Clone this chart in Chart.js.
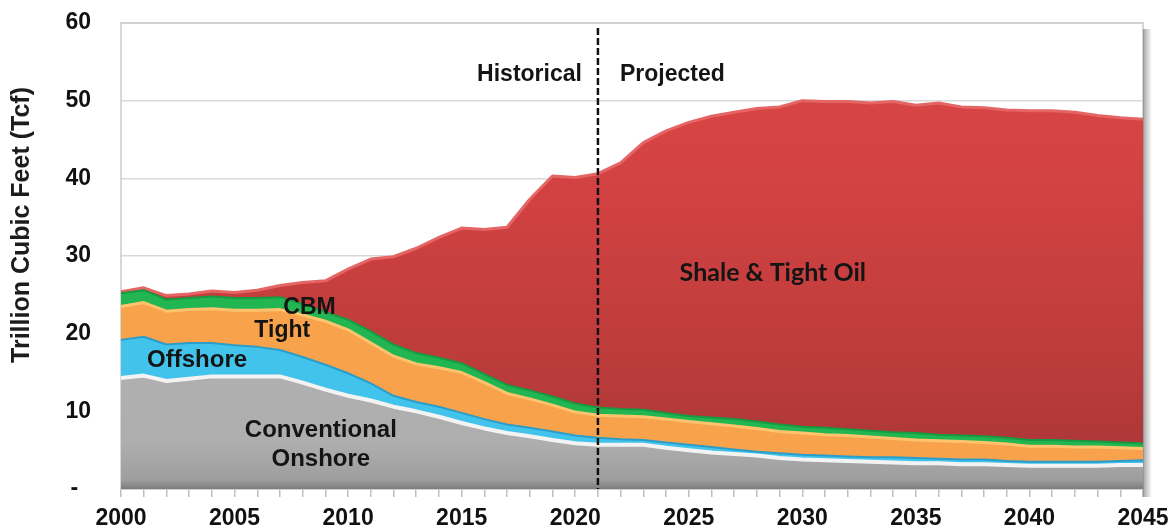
<!DOCTYPE html>
<html>
<head>
<meta charset="utf-8">
<script src="https://cdn.jsdelivr.net/npm/chart.js@4.4.1/dist/chart.umd.min.js"></script>
<style>
html,body{margin:0;padding:0;background:#fff;}
#wrap{width:1173px;height:531px;position:relative;}
</style>
</head>
<body>
<div id="wrap"><canvas id="c" width="1173" height="531"></canvas></div>
<script>
const years = [2000,2001,2002,2003,2004,2005,2006,2007,2008,2009,2010,2011,2012,2013,2014,2015,2016,2017,2018,2019,2020,2021,2022,2023,2024,2025,2026,2027,2028,2029,2030,2031,2032,2033,2034,2035,2036,2037,2038,2039,2040,2041,2042,2043,2044,2045];
const conventionalOnshore = [14.3,14.6,13.9,14.2,14.5,14.5,14.5,14.5,13.7,12.8,12.0,11.4,10.6,10.0,9.3,8.5,7.8,7.2,6.8,6.3,5.9,5.7,5.7,5.7,5.3,5.0,4.7,4.5,4.3,4.0,3.8,3.7,3.6,3.5,3.4,3.3,3.3,3.2,3.2,3.1,3.0,3.0,3.0,3.0,3.1,3.1];
const offshore = [4.9,5.0,4.7,4.6,4.3,4.0,3.8,3.4,3.3,3.2,2.9,2.2,1.4,1.2,1.3,1.3,1.2,1.1,1.1,1.1,1.0,0.9,0.7,0.6,0.7,0.7,0.7,0.6,0.5,0.6,0.6,0.6,0.6,0.6,0.7,0.7,0.6,0.6,0.6,0.5,0.5,0.5,0.5,0.5,0.5,0.6];
const tight = [4.3,4.4,4.3,4.3,4.4,4.5,4.7,5.2,5.4,5.6,5.6,5.2,5.1,4.9,5.0,5.2,4.7,4.0,3.7,3.4,3.0,2.9,3.0,3.0,3.0,3.0,3.0,3.0,3.0,2.8,2.8,2.7,2.7,2.6,2.4,2.3,2.3,2.3,2.2,2.2,2.0,2.0,1.9,1.9,1.7,1.5];
const cbm = [1.7,1.6,1.5,1.5,1.6,1.6,1.6,1.6,1.4,1.2,1.3,1.5,1.5,1.4,1.3,1.2,1.1,1.1,1.1,1.1,1.1,1.0,0.9,0.9,0.8,0.7,0.8,0.9,0.9,0.9,0.8,0.9,0.8,0.8,0.8,0.9,0.8,0.8,0.8,0.8,0.8,0.8,0.8,0.7,0.7,0.7];
const shaleTightOil = [0.2,0.3,0.5,0.5,0.7,0.7,1.0,1.5,2.8,4.0,6.5,9.3,11.3,13.5,15.5,17.4,18.6,20.3,24.6,28.4,29.1,30.1,31.7,34.4,36.3,37.8,38.8,39.5,40.3,40.9,42.0,42.0,42.2,42.2,42.6,42.2,42.7,42.3,42.3,42.2,42.4,42.4,42.3,42.0,41.8,41.7];
const yTicks = [0,10,20,30,40,50,60];
const yTickLabels = ['-','10','20','30','40','50','60'];
const seriesNames = ['Conventional Onshore','Offshore','Tight','CBM','Shale & Tight Oil'];
const dividerYear = 2021;
const eraLabels = ['Historical','Projected'];
const axisTitle = 'Trillion Cubic Feet (Tcf)';

const tickFont = {family:'"Liberation Sans", Arial, sans-serif', size:23, weight:'bold'};
const labelFamily = '"Liberation Sans", Arial, sans-serif';

function vGrad(ctx, stops, fallback){
  const ch = ctx.chart; const a = ch.chartArea;
  if(!a) return fallback;
  const g = ch.ctx.createLinearGradient(0, a.top, 0, a.bottom);
  stops.forEach(s=>g.addColorStop(s[0], s[1]));
  return g;
}

const overlay = {
  id:'overlay',
  beforeDatasetsDraw(chart){
    const {ctx, chartArea:a} = chart;
    ctx.save();
    ctx.strokeStyle='#CBCBCB'; ctx.lineWidth=1.5;
    ctx.strokeRect(a.left, a.top, a.right-a.left, a.bottom-a.top);
    ctx.restore();
  },
  afterDatasetsDraw(chart){
    const {ctx, chartArea:a, scales:{x,y}} = chart;
    ctx.save();
    const sg = ctx.createLinearGradient(a.right,0,a.right+9,0);
    sg.addColorStop(0,'rgba(90,90,90,0.55)');
    sg.addColorStop(1,'rgba(90,90,90,0)');
    ctx.fillStyle=sg;
    ctx.fillRect(a.right, a.top+6, 9, a.bottom-a.top+2);
    const bg = ctx.createLinearGradient(0,a.bottom-9,0,a.bottom);
    bg.addColorStop(0,'rgba(70,70,70,0)');
    bg.addColorStop(1,'rgba(70,70,70,0.35)');
    ctx.fillStyle=bg;
    ctx.fillRect(a.left, a.bottom-9, a.right-a.left, 9);
    const xi = years.indexOf(dividerYear);
    const dx = x.getPixelForValue(xi);
    ctx.strokeStyle='#111'; ctx.lineWidth=2.5; ctx.setLineDash([7,3]);
    ctx.beginPath(); ctx.moveTo(dx, a.top+5); ctx.lineTo(dx, a.bottom); ctx.stroke();
    ctx.setLineDash([]);
    ctx.fillStyle='#141414';
    ctx.textBaseline='middle';
    ctx.font='bold 23px '+labelFamily;
    ctx.textAlign='right';
    ctx.fillText(eraLabels[0], dx-16, y.getPixelForValue(53.3));
    ctx.textAlign='left';
    ctx.fillText(eraLabels[1], dx+22, y.getPixelForValue(53.3));
    ctx.textAlign='center';
    ctx.font='bold 23px '+labelFamily;
    ctx.fillText('CBM', x.getPixelForValue(8.3), y.getPixelForValue(23.4));
    ctx.fillText('Tight', x.getPixelForValue(7.1), y.getPixelForValue(20.4));
    ctx.font='bold 24px '+labelFamily;
    ctx.fillText('Offshore', x.getPixelForValue(3.35), y.getPixelForValue(16.6));
    ctx.fillText('Conventional', x.getPixelForValue(8.8), y.getPixelForValue(7.5));
    ctx.fillText('Onshore', x.getPixelForValue(8.8), y.getPixelForValue(3.8));
    ctx.font='bold 25px Lato, "Open Sans", sans-serif';
    ctx.fillText(seriesNames[4], x.getPixelForValue(28.7), y.getPixelForValue(27.8));
    ctx.translate(22, 225);
    ctx.rotate(-Math.PI/2);
    ctx.font='bold 25px '+labelFamily;
    ctx.fillStyle='#1c1c1c';
    ctx.textAlign='center';
    ctx.fillText(axisTitle, 0, 0);
    ctx.restore();
  }
};

const common = {pointRadius:0, pointHoverRadius:0, tension:0};
new Chart(document.getElementById('c'), {
  type:'line',
  data:{
    labels: years.map(String),
    datasets:[
      Object.assign({label:seriesNames[0], data:conventionalOnshore, fill:'origin',
        backgroundColor:(c)=>vGrad(c,[[0,'#B8B8B8'],[0.9,'#AEAEAE'],[1,'#9A9A9A']],'#B0B0B0'),
        borderColor:'#F3F3F3', borderWidth:4}, common),
      Object.assign({label:seriesNames[1], data:offshore, fill:'-1',
        backgroundColor:'#41C3EB', borderColor:'#2C9DC9', borderWidth:2}, common),
      Object.assign({label:seriesNames[2], data:tight, fill:'-1',
        backgroundColor:'#F8A24C', borderColor:'#FFC36E', borderWidth:3}, common),
      Object.assign({label:seriesNames[3], data:cbm, fill:'-1',
        backgroundColor:'#22B652', borderColor:'#169A42', borderWidth:2}, common),
      Object.assign({label:seriesNames[4], data:shaleTightOil, fill:'-1',
        backgroundColor:(c)=>vGrad(c,[[0,'#DA4646'],[0.35,'#D34242'],[0.7,'#BE3C3C'],[1,'#A83535']],'#C84040'),
        borderColor:'#E56464', borderWidth:3}, common)
    ]
  },
  options:{
    responsive:false,
    animation:false,
    layout:{padding:{left:0,right:30,top:23,bottom:0}},
    plugins:{legend:{display:false}, tooltip:{enabled:false}, title:{display:false}},
    elements:{line:{borderJoinStyle:'round'}},
    scales:{
      x:{
        type:'category', offset:false,
        grid:{drawOnChartArea:false, drawTicks:true, tickLength:8, color:'#BDBDBD', lineWidth:1.5},
        border:{display:true, color:'#BDBDBD', width:1.5},
        ticks:{autoSkip:false, maxRotation:0, minRotation:0, padding:8, color:'#111', font:tickFont,
          callback:(v,i)=> (years[i]%5===0 ? String(years[i]) : '')},
        afterFit:(s)=>{s.height=42; s.paddingLeft=0; s.paddingRight=0;}
      },
      y:{
        stacked:true, min:0, max:60,
        afterBuildTicks:(s)=>{s.ticks = yTicks.map(v=>({value:v}));},
        grid:{color:'#D9D9D9', lineWidth:1.5, drawTicks:false},
        border:{display:false},
        ticks:{padding:30, color:'#111', font:tickFont,
          callback:(v)=>{const i=yTicks.indexOf(v); return i===0 ? yTickLabels[0]+'  ' : yTickLabels[i];}},
        afterFit:(s)=>{s.width=121; s.paddingTop=0; s.paddingBottom=0;}
      }
    }
  },
  plugins:[overlay]
});
</script>
</body>
</html>
